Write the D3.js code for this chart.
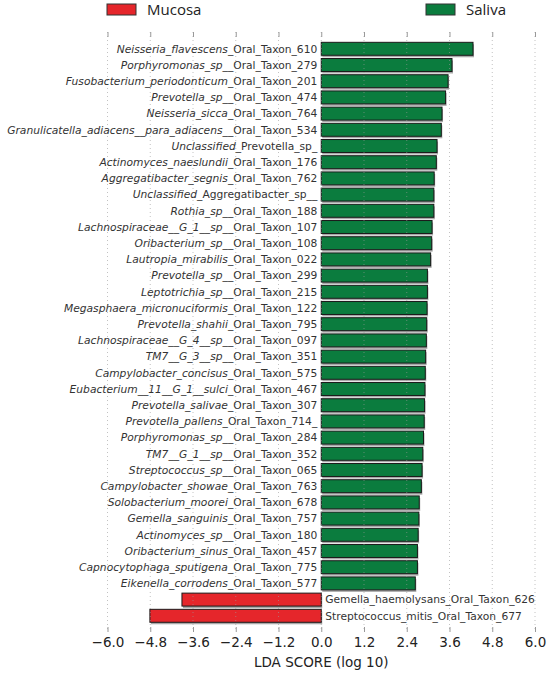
<!DOCTYPE html>
<html><head><meta charset="utf-8">
<script src="https://cdn.jsdelivr.net/npm/d3@7"></script>
<style>body{margin:0;background:#fff;}svg{display:block;}</style>
</head><body>
<svg id="chart" width="550" height="673"></svg>
<script>
const taxa = [
 "Neisseria_flavescens_Oral_Taxon_610","Porphyromonas_sp__Oral_Taxon_279","Fusobacterium_periodonticum_Oral_Taxon_201",
 "Prevotella_sp__Oral_Taxon_474","Neisseria_sicca_Oral_Taxon_764","Granulicatella_adiacens__para_adiacens__Oral_Taxon_534",
 "Unclassified_Prevotella_sp_","Actinomyces_naeslundii_Oral_Taxon_176","Aggregatibacter_segnis_Oral_Taxon_762",
 "Unclassified_Aggregatibacter_sp__","Rothia_sp__Oral_Taxon_188","Lachnospiraceae__G_1__sp__Oral_Taxon_107",
 "Oribacterium_sp__Oral_Taxon_108","Lautropia_mirabilis_Oral_Taxon_022","Prevotella_sp__Oral_Taxon_299",
 "Leptotrichia_sp__Oral_Taxon_215","Megasphaera_micronuciformis_Oral_Taxon_122","Prevotella_shahii_Oral_Taxon_795",
 "Lachnospiraceae__G_4__sp__Oral_Taxon_097","TM7__G_3__sp__Oral_Taxon_351","Campylobacter_concisus_Oral_Taxon_575",
 "Eubacterium__11__G_1__sulci_Oral_Taxon_467","Prevotella_salivae_Oral_Taxon_307","Prevotella_pallens_Oral_Taxon_714_",
 "Porphyromonas_sp__Oral_Taxon_284","TM7__G_1__sp__Oral_Taxon_352","Streptococcus_sp__Oral_Taxon_065",
 "Campylobacter_showae_Oral_Taxon_763","Solobacterium_moorei_Oral_Taxon_678","Gemella_sanguinis_Oral_Taxon_757",
 "Actinomyces_sp__Oral_Taxon_180","Oribacterium_sinus_Oral_Taxon_457","Capnocytophaga_sputigena_Oral_Taxon_775",
 "Eikenella_corrodens_Oral_Taxon_577","Gemella_haemolysans_Oral_Taxon_626","Streptococcus_mitis_Oral_Taxon_677"
];
const ldaScores = [
 4.26,3.67,3.56,3.49,3.39,3.37,3.25,3.23,3.17,3.16,3.16,3.11,3.10,3.07,2.98,2.98,2.97,2.96,
 2.95,2.93,2.92,2.91,2.90,2.89,2.87,2.85,2.83,2.81,2.75,2.74,2.72,2.70,2.70,2.64,-3.91,-4.81
];
const groups = Array(34).fill("Saliva").concat(["Mucosa","Mucosa"]);
const groupNames = ["Mucosa","Saliva"];
const groupColors = {"Mucosa":"#e5262b","Saliva":"#0b7c3e"};
const xTicks = [-6.0,-4.8,-3.6,-2.4,-1.2,0.0,1.2,2.4,3.6,4.8,6.0];

const svg = d3.select("#chart");
const x = d3.scaleLinear().domain([-6,6]).range([107.5,535]);
const y = d3.scaleBand().domain(taxa).range([40.7,623.9]).paddingInner(0.2).paddingOuter(0.1);
const plotTop = 32, plotBottom = 632;

const data = taxa.map((t,i)=>({name:t, v:ldaScores[i], g:groups[i]}));

// bar shadows
svg.append("g").selectAll("rect").data(data).join("rect")
  .attr("x", d=>Math.min(x(0),x(d.v))+1)
  .attr("y", d=>y(d.name)+2)
  .attr("width", d=>Math.abs(x(d.v)-x(0)))
  .attr("height", y.bandwidth())
  .attr("fill","#a8a8a8");

// bars
svg.append("g").selectAll("rect").data(data).join("rect")
  .attr("x", d=>Math.min(x(0),x(d.v)))
  .attr("y", d=>y(d.name))
  .attr("width", d=>Math.abs(x(d.v)-x(0)))
  .attr("height", y.bandwidth())
  .attr("fill", d=>groupColors[d.g])
  .attr("stroke","#1a1a1a").attr("stroke-width",1);

// grid
svg.append("g").selectAll("line").data(xTicks).join("line")
  .attr("x1",d=>x(d)).attr("x2",d=>x(d)).attr("y1",plotTop).attr("y2",plotBottom)
  .attr("stroke","#999").attr("stroke-opacity",0.6).attr("stroke-width",1)
  .attr("stroke-dasharray","1,3");

// bottom axis
const axB = d3.axisBottom(x).tickValues(xTicks).tickSizeInner(-5).tickSizeOuter(0)
  .tickPadding(5).tickFormat(d=>d3.format(".1f")(d).replace("-","\u2212"));
const gB = svg.append("g").attr("transform",`translate(0,${plotBottom})`).call(axB);
gB.select(".domain").remove();
gB.selectAll(".tick line").attr("stroke","#999");
gB.selectAll(".tick text").attr("font-family","DejaVu Sans").attr("font-size",13.5).attr("fill","#222");

// top ticks
const axT = d3.axisTop(x).tickValues(xTicks).tickSizeInner(-5).tickSizeOuter(0).tickFormat("");
const gT = svg.append("g").attr("transform",`translate(0,${plotTop})`).call(axT);
gT.select(".domain").remove();
gT.selectAll(".tick line").attr("stroke","#999");

// axis title
svg.append("text").attr("x",x(0)).attr("y",667).attr("text-anchor","middle")
  .attr("font-family","DejaVu Sans").attr("font-size",13.5).attr("fill","#222")
  .text("LDA SCORE (log 10)");

// labels
const lab = svg.append("g").attr("font-family","DejaVu Sans").attr("font-size",10.7).attr("fill","#333");
data.forEach(d=>{
  const pos = d.v >= 0;
  const t = lab.append("text")
    .attr("x", pos ? x(0)-4 : x(0)+4)
    .attr("y", y(d.name)+y.bandwidth()/2)
    .attr("dy","0.35em")
    .attr("text-anchor", pos ? "end" : "start");
  if (pos) {
    let ital, rest;
    if (d.name.startsWith("Unclassified")) { ital="Unclassified"; rest=d.name.slice(12); }
    else { const k=d.name.indexOf("_Oral_Taxon"); ital=d.name.slice(0,k); rest=d.name.slice(k); }
    t.append("tspan").attr("font-style","italic").text(ital);
    t.append("tspan").text(rest);
  } else {
    t.text(d.name);
  }
});

// legend
const leg = [{g:"Mucosa",x:107},{g:"Saliva",x:426}];
leg.forEach(l=>{
  svg.append("rect").attr("x",l.x).attr("y",4).attr("width",29).attr("height",11)
    .attr("fill",groupColors[l.g]).attr("stroke","#333").attr("stroke-width",1);
  svg.append("text").attr("x",l.x+40).attr("y",10).attr("dy","0.35em")
    .attr("font-family","Open Sans").attr("font-size",15).attr("fill","#222").text(l.g);
});
</script>
</body></html>
